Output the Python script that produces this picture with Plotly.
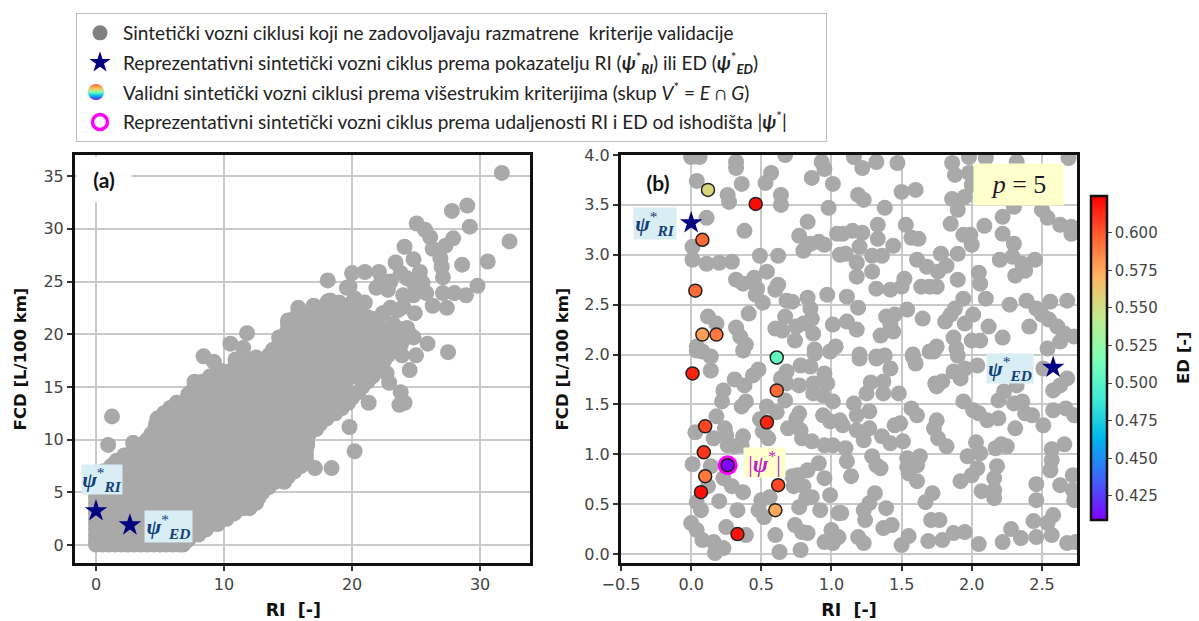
import base64
import plotly.graph_objects as go

# ---------- panel (a): gray cloud, dense core rows (FCD level, RI readings) ----------
core_rows_a = [
    (0.05, [0, 0.5, 1, 1.5, 2, 2.5, 3, 3.5, 4, 4.5, 5, 5.5, 6, 6.5, 6.8]),
    (0.5, [0, 7.2]),
    (1, [0, 0.5, 1.5, 2.5, 3.5, 4.5, 5.5, 6.5, 7.5, 8]),
    (1.5, [0, 8.6]),
    (2, [0, 1, 2, 3, 4, 5, 6, 7, 8, 9, 9.5]),
    (2.5, [0, 10.2]),
    (3, [0, 0.5, 1.5, 2.5, 3.5, 4.5, 5.5, 6.5, 7.5, 8.5, 9.5, 10.5, 10.8]),
    (3.5, [0, 11.5, 12]),
    (4, [0, 1, 2, 3, 4, 5, 6, 7, 8, 9, 10, 11, 12, 12.5]),
    (4.5, [0, 12.7]),
    (5, [0, 0.5, 1.5, 2.5, 3.5, 4.5, 5.5, 6.5, 7.5, 8.5, 9.5, 10.5, 11.5, 12.5, 13]),
    (5.5, [0, 13.5]),
    (6, [0.3, 1, 2, 3, 4, 5, 6, 7, 8, 9, 10, 11, 12, 13, 14, 14.7]),
    (6.5, [0.4, 14.8, 15]),
    (7, [0.6, 1.5, 2.5, 3.5, 4.5, 5.5, 6.5, 7.5, 8.5, 9.5, 10.5, 11.5, 12.5, 13.5, 14.5, 15.5]),
    (7.5, [1.2, 16]),
    (8, [1.6, 2, 3, 4, 5, 6, 7, 8, 9, 10, 11, 12, 13, 14, 15, 16, 16.4]),
    (8.5, [2.2, 16.4]),
    (9, [2.9, 3.5, 4.5, 5.5, 6.5, 7.5, 8.5, 9.5, 10.5, 11.5, 12.5, 13.5, 14.5, 15.5, 16.4]),
    (9.5, [3.4, 16.5]),
    (10, [4, 5, 6, 7, 8, 9, 10, 11, 12, 13, 14, 15, 16, 16.5]),
    (10.5, [4.3, 16.6]),
    (11, [4.6, 5.5, 6.5, 7.5, 8.5, 9.5, 10.5, 11.5, 12.5, 13.5, 14.5, 15.5, 16.5, 17.2]),
    (11.5, [4.7, 17.5]),
    (12, [4.8, 6, 7, 8, 9, 10, 11, 12, 13, 14, 15, 16, 17, 18]),
    (12.5, [5.3, 18.7]),
    (13, [5.8, 6.5, 7.5, 8.5, 9.5, 10.5, 11.5, 12.5, 13.5, 14.5, 15.5, 16.5, 17.5, 18.5, 19.2]),
    (13.5, [6.3, 19.7]),
    (14, [7.2, 8, 9, 10, 11, 12, 13, 14, 15, 16, 17, 18, 19, 20]),
    (14.5, [7.4, 20.5]),
    (15, [7.7, 8.5, 9.5, 10.5, 11.5, 12.5, 13.5, 14.5, 15.5, 16.5, 17.5, 18.5, 19.5, 20.8]),
    (15.5, [8.3, 21.2]),
    (16, [9, 10, 11, 12, 13, 14, 15, 16, 17, 18, 19, 20, 21, 21.6]),
    (16.5, [9.8, 10.5, 11.5, 12.5, 13.5, 14.5, 15.5, 16.5, 17.5, 18.5, 19.5, 20.5, 21.8]),
    (17, [10.9, 11.5, 12.5, 13.5, 14.5, 15.5, 16.5, 17.5, 18.5, 19.5, 20.5, 21.5, 22.2]),
    (17.5, [12, 13, 14, 15, 16, 17, 18, 19, 20, 21, 22, 22.5]),
    (18, [13.5, 14, 15, 16, 17, 18, 19, 20, 21, 22, 22.8]),
    (18.5, [13.8, 15, 16, 17, 18, 19, 20, 21, 22, 23]),
    (19, [14.3, 14.8, 15.8, 16.8, 17.8, 18.8, 19.8, 20.8, 21.8, 22.8, 23.8]),
    (19.5, [14.5, 15.5, 16.5, 17.5, 18.5, 19.5, 20.5, 21.5, 22.5, 23.5, 24]),
    (20, [14.8, 15.5, 16.5, 17.5, 18.5, 19.5, 20.5, 21.5, 22.5, 23.5, 24.5]),
    (20.5, [15, 16, 17, 18, 19, 20, 21, 22, 23, 24]),
    (21, [15, 16, 17, 18, 19, 20, 21, 22, 23.2]),
    (21.5, [15.5, 16.5, 17.5, 18.5, 19.5, 20.5, 21.5]),
    (22, [15.8, 16.5, 17.5, 18.5, 19.5, 20.5]),
    (22.5, [17, 18, 19, 20]),
    (23, [18.1, 19, 20, 21]),
]
sparse_a_x = [31.7, 29, 27.8, 29.2, 32.3, 25.05, 25.7, 26.1, 27.9, 27.3, 26.3, 24.1, 26.9, 27, 27.1,
              28.6, 30.6, 29.8, 28.9, 28, 27.1, 27.4, 26.3, 25.9, 27.5, 25, 23.9, 24.5, 18.1, 20,
              21, 22.1, 23.4, 24.8, 25.3, 23.8, 24.3, 22.3, 23, 21.9, 22.8, 19.8, 24.8, 25.5, 25.8,
              24, 24.8, 20.2, 18.3, 17.1, 24, 24.9, 23, 22.4, 23.6, 21.2, 19.8, 18.5, 24.3, 24.8,
              22.7, 23.5, 22.7, 22.9, 23.8, 24.1, 23.7, 21.3, 19.8, 20.2, 18.4, 17.1, 15.5, 14.7,
              8.4, 9.2, 10.5, 11.5, 11.8, 12.5, 10.9, 8.9, 7.7, 7.2, 13.9, 14.3, 15, 15.8, 17, 18.1,
              19.6, 0.95, 1.25, 2.9]
sparse_a_y = [35.3, 32.2, 31.7, 30.2, 28.8, 30.5, 29.9, 29.2, 29.1, 28.4, 28.1, 28.3, 27.2, 26.4, 25.4,
              26.6, 26.9, 24.6, 23.7, 23.9, 23.9, 22.5, 22.7, 19.1, 18.3, 18, 18, 16.6, 25.1, 25.8,
              25.9, 25.9, 26.8, 27.1, 25.9, 25.8, 25.3, 25.1, 25, 24.4, 24.2, 24.5, 24.9, 24.9, 23.9,
              23.7, 23.7, 23.4, 23.2, 22.6, 22.6, 22, 22.5, 22, 22.3, 21.6, 22, 22.3, 20.6, 19.7,
              20.4, 20.2, 16.3, 15.4, 14.5, 13.5, 13.3, 13.5, 11.2, 8.9, 7.3, 7.3, 7.3, 6.2,
              17.9, 17.4, 19.1, 18.7, 20.1, 17.8, 17.6, 16, 15.5, 14.3, 18.2, 19.7, 21.3, 22.5, 22.7, 23.1,
              24.4, 9.5, 12.2, 9.7]
star_a_x = [0, 2.65]
star_a_y = [3.25, 1.9]

# ---------- panel (b): gray cloud ----------
gray_b_pairs = [
    (0, 3.98), (.06, 3.98), (.32, 3.93), (.32, 3.87), (.67, 4.0), (.93, 3.93), (.95, 3.86),
    (.04, 3.74), (.36, 3.71), (.57, 3.82), (.53, 3.72), (.86, 3.77), (1.01, 3.71), (.26, 3.6), (.27, 3.53),
    (.64, 3.6), (.64, 3.5), (.98, 3.47), (.11, 3.37), (.38, 3.24), (.83, 3.33), (.77, 3.19), (1.04, 3.21),
    (.91, 3.13), (.85, 3.11), (.95, 3.1), (.80, 3.04), (.49, 2.99), (.62, 2.99), (.01, 3.08), (.01, 2.95),
    (.11, 2.91), (.2, 2.92), (.29, 2.93), (1.06, 3.0), (.54, 2.83), (.45, 2.77), (.32, 2.75), (.37, 2.71),
    (.62, 2.7), (.6, 2.65), (.47, 2.66), (.46, 2.6), (.51, 2.52), (.97, 2.6), (.83, 2.57), (.68, 2.54),
    (.72, 2.53), (.85, 2.46), (.86, 2.36), (.41, 2.41), (.67, 2.38), (.12, 2.38), (.18, 2.31), (.32, 2.27),
    (.35, 2.18), (.39, 2.1), (.6, 2.26), (.65, 2.24), (.75, 2.28), (.8, 2.31), (.87, 2.21), (1.01, 2.3),
    (.74, 2.14), (.04, 2.08), (.08, 2.03), (.88, 2.05), (1.03, 2.08),
    (1.16, 3.98), (1.32, 3.93), (1.47, 3.92), (1.22, 3.87), (1.86, 3.92), (1.88, 3.8), (1.98, 3.98), (2.1, 3.97),
    (2.32, 3.93), (2.69, 3.97), (1.98, 3.82), (2.0, 3.7), (1.19, 3.6), (1.23, 3.55), (1.5, 3.63), (1.6, 3.65),
    (1.38, 3.47), (1.86, 3.56), (1.95, 3.58), (1.9, 3.45), (1.85, 3.31), (2.3, 3.48), (2.22, 3.38), (2.09, 3.29),
    (2.5, 3.45), (2.54, 3.37), (2.63, 3.3), (2.71, 3.28), (2.71, 3.21), (1.15, 3.24), (1.22, 3.22), (1.08, 3.21),
    (1.33, 3.3), (1.33, 3.16), (1.53, 3.3), (1.57, 3.17), (1.62, 3.16), (1.44, 3.09), (1.2, 3.08), (1.1, 3.01),
    (1.29, 2.99), (1.36, 2.99), (1.94, 3.2), (1.99, 3.2), (2.0, 3.1), (2.22, 3.21), (2.3, 3.11), (1.78, 3.01),
    (1.9, 3.01), (1.61, 2.95), (2.2, 2.95), (2.29, 2.98), (2.36, 2.91), (2.45, 2.95), (1.18, 2.92), (1.68, 2.88),
    (1.82, 2.89), (1.76, 2.83), (2.38, 2.84), (2.31, 2.79), (1.29, 2.83), (1.18, 2.78), (2.05, 2.82), (1.32, 2.66),
    (1.52, 2.76), (1.9, 2.75), (2.06, 2.71), (1.42, 2.65), (1.5, 2.68), (1.64, 2.68), (1.7, 2.68), (1.75, 2.68),
    (2.1, 2.56), (1.11, 2.58), (1.19, 2.47), (1.94, 2.56), (1.88, 2.46), (1.85, 2.4), (1.81, 2.33), (2.01, 2.4),
    (1.95, 2.31), (2.12, 2.28), (2.27, 2.5), (2.39, 2.54), (2.46, 2.46), (2.56, 2.53), (2.68, 2.54), (2.5, 2.4),
    (2.55, 2.35), (2.41, 2.28), (2.61, 2.28), (2.66, 2.21), (2.63, 2.13), (2.73, 2.18), (2.54, 2.06),
    (1.54, 2.45), (1.45, 2.4), (1.39, 2.38), (1.42, 2.3), (1.44, 2.23), (1.35, 2.19), (1.65, 2.36), (1.11, 2.33),
    (1.18, 2.25), (1.87, 2.17), (2.0, 2.14), (2.06, 2.14), (2.22, 2.17), (1.75, 2.08), (1.89, 2.06), (1.2, 2.0),
    (1.32, 1.98), (1.58, 2.0), (1.7, 2.03),
    (.04, 2.04), (.14, 1.98), (.37, 2.04), (.14, 1.84), (.88, 2.01), (.99, 2.03), (.48, 1.85), (.44, 1.79),
    (.31, 1.75), (.38, 1.69), (.23, 1.64), (.22, 1.53), (.39, 1.53), (.36, 1.48), (.78, 1.89), (.85, 1.88),
    (.95, 1.81), (.68, 1.83), (.64, 1.76), (.68, 1.71), (.77, 1.69), (.87, 1.71), (.97, 1.71), (.87, 1.61),
    (.94, 1.59), (.67, 1.54), (1.01, 1.53), (.77, 1.41), (.75, 1.36), (.54, 1.48), (.61, 1.42), (.49, 1.35),
    (.51, 1.23), (.55, 1.16), (.18, 1.38), (.24, 1.26), (.25, 1.19), (.03, 1.22), (.16, 1.16), (.37, 1.18),
    (.36, 1.09), (.26, 1.09), (.31, 1.08), (.69, 1.26), (.78, 1.24), (.79, 1.16), (.86, 1.13), (.95, 1.09),
    (1.01, 1.09), (.99, 1.33), (.94, 1.39), (1.06, 1.34), (.01, .9), (.14, .88), (.91, .91), (.83, .84),
    (.76, .79), (.95, .76), (.72, .78), (.73, .68), (.8, .68), (.23, .76), (.29, .68), (.37, .62), (.12, .68),
    (.04, .52), (.07, .44), (.2, .53), (.33, .44), (.5, .54), (.56, .57), (.52, .37), (.48, .44), (.82, .56),
    (.77, .47), (.92, .44), (.86, .57), (.99, .59), (1.05, .41), (0, .31), (.04, .24), (.25, .27), (.39, .19),
    (.08, .14), (.16, .12), (.23, .06), (.17, .01), (.6, .19), (.63, .02), (.74, .29), (.78, .04), (.83, .21),
    (1.0, .24), (.95, .12), (1.05, .17), (1.01, .11), (.79, .22),
    (1.2, 1.96), (1.32, 1.96), (1.38, 1.99), (1.42, 1.86), (1.58, 1.98), (1.6, 1.91), (1.73, 2.03), (1.9, 1.99),
    (2.04, 1.89), (1.95, 1.86), (1.87, 1.83), (1.92, 1.76), (1.79, 1.73), (1.74, 1.71), (1.75, 1.68), (1.28, 1.72),
    (1.37, 1.73), (1.25, 1.61), (1.37, 1.61), (1.48, 1.61), (1.16, 1.51), (1.27, 1.43), (1.18, 1.39), (2.23, 1.63),
    (2.32, 1.69), (2.19, 1.54), (1.94, 1.53), (2.01, 1.44), (2.05, 1.41), (2.11, 1.34), (2.19, 1.36), (2.3, 1.51),
    (2.36, 1.53), (2.38, 1.41), (2.43, 1.39), (2.51, 1.29), (2.31, 1.26), (2.58, 1.64), (2.63, 1.69), (2.68, 1.76),
    (2.58, 1.44), (2.67, 1.46), (2.73, 1.39), (2.51, 1.86), (1.57, 1.46), (1.61, 1.39), (1.49, 1.31), (1.45, 1.29),
    (1.75, 1.34), (1.73, 1.26), (1.76, 1.16), (1.82, 1.08), (1.08, 1.29), (1.18, 1.24), (1.27, 1.26), (1.23, 1.14),
    (1.36, 1.18), (1.42, 1.11), (1.51, 1.13), (2.03, 1.12), (2.06, 1.01), (1.97, .98), (2.17, 1.06), (2.21, 1.1),
    (2.25, 1.08), (2.57, 1.05), (2.66, 1.1), (2.57, .94), (2.56, .84), (2.18, .88), (2.04, .86), (2.0, .79),
    (1.92, .73), (2.16, .76), (2.16, .64), (2.07, .63), (2.16, .56), (2.46, .7), (2.46, .54), (2.63, .69),
    (2.72, .79), (2.72, .64), (2.73, .54), (1.1, 1.06), (1.11, .93), (1.29, .98), (1.32, .89), (1.14, .78),
    (1.35, .86), (1.54, .96), (1.63, .98), (1.54, .87), (1.61, .89), (1.55, .81), (1.61, .73), (1.31, .61),
    (1.27, .51), (1.23, .44), (1.24, .34), (1.39, .46), (1.72, .61), (1.67, .52), (1.07, .41), (1.43, .29),
    (1.37, .26), (1.19, .17), (1.23, .11), (1.55, .18), (1.5, .09), (1.71, .34), (1.77, .34), (1.69, .13),
    (1.79, .14), (1.87, .21), (1.95, .22), (2.05, .1), (2.22, .12), (2.28, .25), (2.35, .16), (2.46, .17),
    (2.44, .33), (2.58, .39), (2.54, .31), (2.57, .19), (2.68, .11), (2.74, .12),
]
valid_ri = [.12, .46, .08, .03, .08, .18, .61, .01, .61, .54, .10, .09, .26, .10, .07, .62, .6, .33]
valid_fcd = [3.65, 3.51, 3.15, 2.64, 2.2, 2.2, 1.97, 1.81, 1.64, 1.32, 1.28, 1.02, .89, .78, .62, .69, .44, .2]
valid_ed = [.555, .622, .595, .595, .578, .59, .505, .615, .595, .615, .605, .61, .41, .59, .62, .605, .575, .62]
star_b_x = [0, 2.58]
star_b_y = [3.32, 1.87]
best_x = [.26]
best_y = [.89]

ticks_a_x = [0, 10, 20, 30]
ticks_a_y = [0, 5, 10, 15, 20, 25, 30, 35]
ticks_b_x = [-0.5, 0, 0.5, 1, 1.5, 2, 2.5]
ticks_b_y = [0, 0.5, 1, 1.5, 2, 2.5, 3, 3.5, 4]
ticks_ed = [.425, .45, .475, .5, .525, .55, .575, .6]

W, H = 1199, 621
GRAY = "#a9a9a9"
NAVY = "#000080"
RAINBOW = [[0, "#8000ff"], [.125, "#4062fa"], [.25, "#00b5ec"], [.375, "#40ecd4"], [.5, "#80ffb4"],
           [.625, "#c0ec8e"], [.75, "#ffb562"], [.875, "#ff6232"], [1, "#ff0000"]]
TICKFONT = "DejaVu Sans"
LEGFONT = "Lato"
MATH = "Liberation Serif"


def px(v):
    return v / W


def py(v):
    return 1 - v / H


a_x = [x for _, xs in core_rows_a for x in xs] + sparse_a_x
a_y = [y for y, xs in core_rows_a for _ in xs] + sparse_a_y

fig = go.Figure()
fig.add_trace(go.Scatter(x=a_x, y=a_y, mode="markers", xaxis="x", yaxis="y", showlegend=False,
                         marker=dict(size=16, color=GRAY)))
fig.add_trace(go.Scatter(x=star_a_x, y=star_a_y, mode="markers", xaxis="x", yaxis="y", showlegend=False,
                         marker=dict(size=17, color=NAVY, symbol="star", line=dict(width=0))))
fig.add_trace(go.Scatter(x=[p[0] for p in gray_b_pairs], y=[p[1] for p in gray_b_pairs], mode="markers",
                         xaxis="x2", yaxis="y2", showlegend=False, marker=dict(size=16, color=GRAY)))
fig.add_trace(go.Scatter(x=best_x, y=best_y, mode="markers", xaxis="x2", yaxis="y2", showlegend=False,
                         marker=dict(size=20, color="#ff00ff", line=dict(width=0))))
fig.add_trace(go.Scatter(x=valid_ri, y=valid_fcd, mode="markers", xaxis="x2", yaxis="y2", showlegend=False,
                         marker=dict(size=13, color=valid_ed, colorscale=RAINBOW, cmin=.409, cmax=.6244,
                                     line=dict(width=1.5, color="#222222"),
                                     colorbar=dict(x=px(1091), xanchor="left", xpad=0, y=py(358), yanchor="middle",
                                                   ypad=0, lenmode="pixels", len=324, thickness=16,
                                                   outlinewidth=2.5, outlinecolor="#111111",
                                                   tickvals=ticks_ed, tickformat=".3f", ticks="outside",
                                                   ticklen=4, tickcolor="#444444",
                                                   tickfont=dict(family=TICKFONT, size=15, color="#444444")))))
fig.add_trace(go.Scatter(x=star_b_x, y=star_b_y, mode="markers", xaxis="x2", yaxis="y2", showlegend=False,
                         marker=dict(size=17, color=NAVY, symbol="star", line=dict(width=0))))

# legend entries
legend_names = [
    "Sintetički vozni ciklusi koji ne zadovoljavaju razmatrene  kriterije validacije",
    "Reprezentativni sintetički vozni ciklus prema pokazatelju RI (<b><i>ψ</i></b><sup>*</sup><sub><b><i>RI</i></b></sub>) ili ED (<b><i>ψ</i></b><sup>*</sup><sub><b><i>ED</i></b></sub>)",
    "Validni sintetički vozni ciklusi prema višestrukim kriterijima (skup <i>V</i><sup>*</sup> = <i>E</i> ∩ <i>G</i>)",
    "Reprezentativni sintetički vozni ciklus prema udaljenosti RI i ED od ishodišta |<b><i>ψ</i></b><sup>*</sup>|" + "\u00a0" * 7,
]
legend_markers = [
    dict(size=15, color="#808080"),
    dict(size=16, color=NAVY, symbol="star"),
    dict(size=15, color="rgba(0,0,0,0)"),
    dict(size=15, color="rgba(0,0,0,0)", line=dict(width=3.5, color="#ff00ff")),
]
for i, (nm, mk) in enumerate(zip(legend_names, legend_markers)):
    fig.add_trace(go.Scatter(x=[None], y=[None], mode="markers", xaxis="x2", yaxis="y2", name=nm,
                             legendgroup=f"g{i}", marker=mk))

grad_svg = ('<svg xmlns="http://www.w3.org/2000/svg" width="20" height="20"><defs><linearGradient id="g" x1="0" y1="0" x2="0" y2="1">'
            '<stop offset="0" stop-color="#ff6232"/><stop offset=".3" stop-color="#f5c860"/><stop offset=".5" stop-color="#80ffb4"/>'
            '<stop offset=".75" stop-color="#00b5ec"/><stop offset="1" stop-color="#8000ff"/></linearGradient></defs>'
            '<circle cx="10" cy="10" r="9" fill="url(#g)"/></svg>')
grad_uri = "data:image/svg+xml;base64," + base64.b64encode(grad_svg.encode()).decode()


def label(x0, x1, y0, y1, text, bg, color=NAVY, size=20, family=MATH):
    return dict(xref="paper", yref="paper", x=px((x0 + x1) / 2), y=py((y0 + y1) / 2), xanchor="center", yanchor="middle",
                width=x1 - x0, height=y1 - y0, text=text, showarrow=False, bgcolor=bg, borderpad=0,
                font=dict(family=family, size=size, color=color), align="center", valign="middle")


LBLUE = "#d9edf4"
LYEL = "#ffffcc"
PSI = "<b><i>ψ</i></b><sup>*</sup><sub><b><i>%s</i></b></sub>"
annotations = [
    label(77, 131, 157, 202, "<b>(a)</b>", "white", "#111111", 21, LEGFONT),
    label(636, 680, 165, 200, "<b>(b)</b>", "white", "#111111", 21, LEGFONT),
    label(82, 122, 465, 494, PSI % "RI", LBLUE, "#12407a", 22),
    label(145, 192, 511, 542, PSI % "ED", LBLUE, "#12407a", 22),
    label(634, 676, 208, 239, PSI % "RI", LBLUE, "#12407a", 22),
    label(987, 1033, 354, 383, PSI % "ED", LBLUE, "#12407a", 22),
    label(744, 785, 448, 477, "|<b><i>ψ</i></b><sup>*</sup>|", LYEL, "#c020c0", 23),
    label(974, 1063, 164, 205, "<i>p</i> = 5", LYEL, "#1a1a2a", 26),
    dict(xref="paper", yref="paper", x=px(1183), y=py(358), xanchor="center", yanchor="middle", textangle=-90,
         text="<b>ED [-]</b>", showarrow=False, font=dict(family=TICKFONT, size=16.5, color="#111111")),
]


def axis(dom, rng, ticks, title, anchor, fmt, standoff, size=16.5):
    return dict(domain=dom, range=rng, tickvals=ticks, tickformat=fmt, anchor=anchor, showgrid=True, gridcolor="#c9c9c9",
                gridwidth=1.5, zeroline=False, showline=True, linewidth=3, linecolor="#111111", mirror=True,
                ticks="outside", ticklen=5, tickwidth=1.5, tickcolor="#333333",
                tickfont=dict(family=TICKFONT, size=16, color="#444444"),
                title=dict(text=f"<b>{title}</b>", standoff=standoff, font=dict(family=TICKFONT, size=size, color="#111111")))


fig.update_layout(
    width=W, height=H, margin=dict(l=0, r=0, t=0, b=0, autoexpand=False),
    paper_bgcolor="white", plot_bgcolor="white",
    xaxis=axis([px(75), px(530)], [-1.64, 33.9], ticks_a_x, "RI\u00a0\u00a0[-]\u00a0\u00a0\u00a0", "y", "d", 11, 17.5),
    yaxis=axis([py(563), py(155)], [-1.7, 37.0], ticks_a_y, "FCD [L/100 km]", "x", "d", 13),
    xaxis2=axis([px(621), px(1077)], [-0.5, 2.75], ticks_b_x, "RI\u00a0\u00a0[-]", "y2", ".1f", 11, 17.5),
    yaxis2=axis([py(563), py(155)], [-0.09, 4.0], ticks_b_y, "FCD [L/100 km]", "x2", ".1f", 12),
    legend=dict(x=px(76), y=py(13), xanchor="left", yanchor="top", bgcolor="rgba(0,0,0,0)", bordercolor="#bdbdbd",
                borderwidth=1, traceorder="grouped", tracegroupgap=2, itemwidth=36,
                font=dict(family=LEGFONT, size=19, color="#222222"), itemclick=False),
    annotations=annotations,
    images=[dict(source=grad_uri, xref="paper", yref="paper", x=px(87), y=py(83), sizex=18 / W, sizey=18 / H,
                 xanchor="left", yanchor="top", layer="above", sizing="stretch")],
)

fig.write_html("out.html", config={"displayModeBar": False},
               post_script="document.body.style.margin='0';document.body.style.overflow='hidden';")
